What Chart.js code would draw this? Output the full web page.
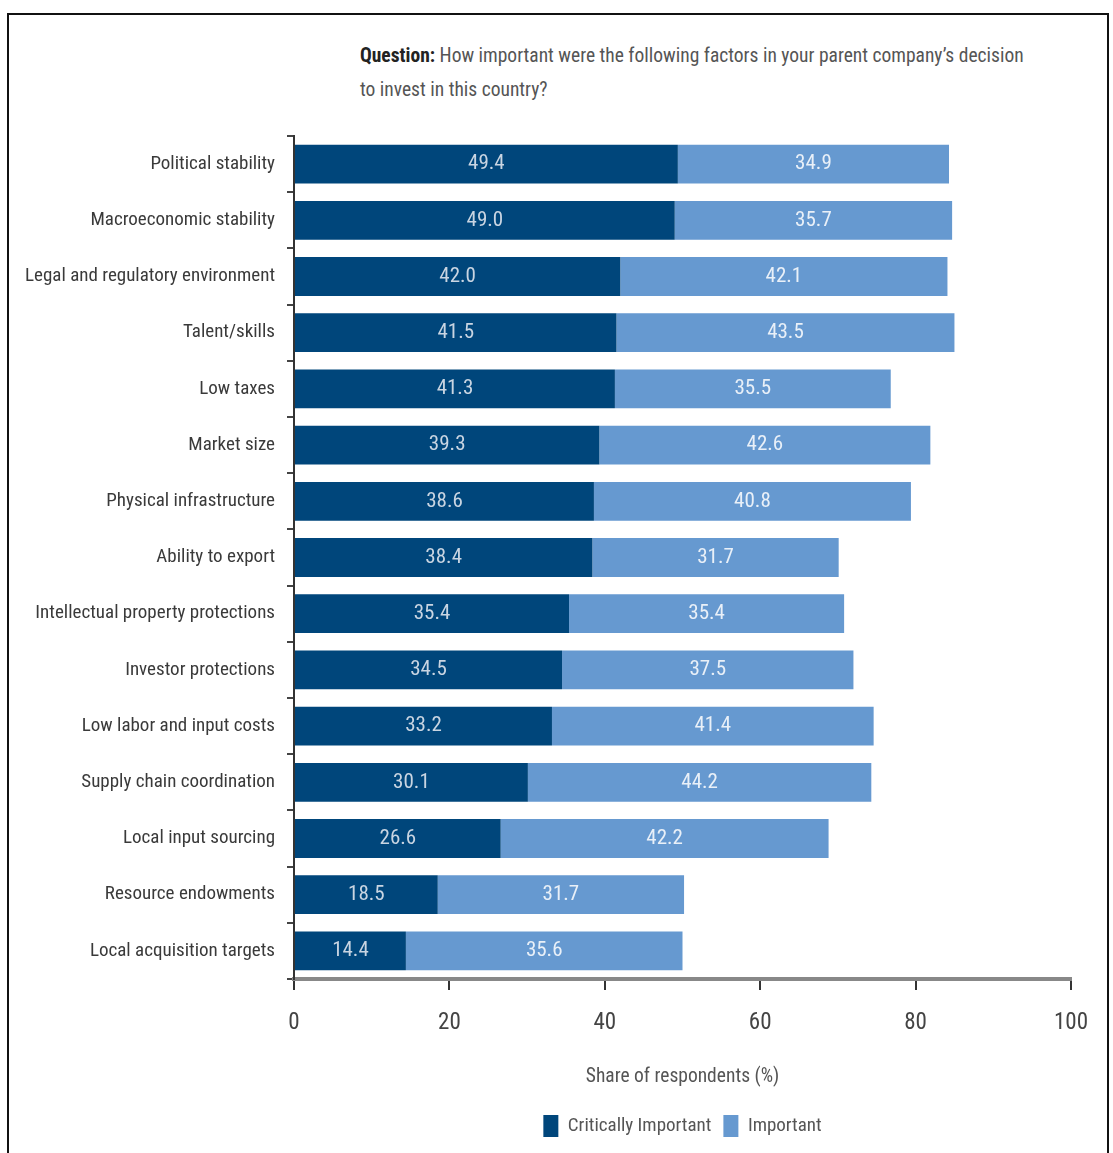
<!DOCTYPE html>
<html>
<head>
<meta charset="utf-8">
<script src="https://cdn.jsdelivr.net/npm/chart.js@4/dist/chart.umd.min.js"></script>
<style>
  html, body { margin:0; padding:0; background:#fff; }
  body { width:1113px; height:1153px; position:relative; overflow:hidden; }
  #frame { position:absolute; left:7px; top:13px; width:1102px; height:1160px; border:2px solid #111; box-sizing:border-box; }
  #title { position:absolute; left:360px; top:39px; font-family:'Liberation Sans Narrow','Arial Narrow','Roboto Condensed',sans-serif; font-size:19.5px; line-height:34px; color:#555; }
  #title b { color:#222; }
  #wrap { position:absolute; left:0; top:0; width:1113px; height:1153px; }
</style>
</head>
<body>
<div id="frame"></div>
<div id="title"><b>Question:</b> How important were the following factors in your parent company’s decision<br>to invest in this country?</div>
<div id="wrap"><canvas id="c" width="1113" height="1153"></canvas></div>
<script>
const categories = [
  "Political stability",
  "Macroeconomic stability",
  "Legal and regulatory environment",
  "Talent/skills",
  "Low taxes",
  "Market size",
  "Physical infrastructure",
  "Ability to export",
  "Intellectual property protections",
  "Investor protections",
  "Low labor and input costs",
  "Supply chain coordination",
  "Local input sourcing",
  "Resource endowments",
  "Local acquisition targets"
];
const criticallyImportant = [49.4, 49.0, 42.0, 41.5, 41.3, 39.3, 38.6, 38.4, 35.4, 34.5, 33.2, 30.1, 26.6, 18.5, 14.4];
const important = [34.9, 35.7, 42.1, 43.5, 35.5, 42.6, 40.8, 31.7, 35.4, 37.5, 41.4, 44.2, 42.2, 31.7, 35.6];
const xTicks = [0, 20, 40, 60, 80, 100];
const seriesNames = ["Critically Important", "Important"];

const FONT = "'Liberation Sans Narrow','Arial Narrow','Roboto Condensed',sans-serif";

const barLabels = {
  id: 'barLabels',
  afterDatasetsDraw(chart) {
    const ctx = chart.ctx;
    ctx.save();
    ctx.font = '21px ' + FONT;
    ctx.textAlign = 'center';
    ctx.textBaseline = 'middle';
    chart.data.datasets.forEach((ds, di) => {
      const meta = chart.getDatasetMeta(di);
      meta.data.forEach((bar, i) => {
        const p = bar.getProps(['x', 'y', 'base'], true);
        ctx.fillStyle = di === 0 ? '#c9d5e2' : '#e9f0f8';
        ctx.fillText(ds.data[i].toFixed(1), (p.x + p.base) / 2, p.y);
      });
    });
    ctx.restore();
  }
};

new Chart(document.getElementById('c'), {
  type: 'bar',
  data: {
    labels: categories,
    datasets: [
      { label: seriesNames[0], data: criticallyImportant, backgroundColor: '#00467b', categoryPercentage: 1, barPercentage: 0.69 },
      { label: seriesNames[1], data: important, backgroundColor: '#6699d0', categoryPercentage: 1, barPercentage: 0.69 }
    ]
  },
  options: {
    indexAxis: 'y',
    responsive: false,
    animation: false,
    devicePixelRatio: 1,
    layout: { padding: { top: 136, right: 42, left: 0, bottom: 6 } },
    plugins: {
      legend: {
        position: 'bottom',
        fullSize: false,
        labels: {
          font: { family: FONT, size: 19 },
          color: '#555',
          boxWidth: 15,
          boxHeight: 22,
          padding: 12,
          useBorderRadius: false
        }
      },
      tooltip: { enabled: false },
      title: { display: false }
    },
    scales: {
      x: {
        stacked: true,
        min: 0, max: 100,
        afterBuildTicks(scale) { scale.ticks = xTicks.map(v => ({ value: v })); },
        afterFit(scale) { scale.height = 124; },
        ticks: { font: { family: FONT, size: 23 }, color: '#444', padding: 19, maxRotation: 0 },
        grid: { drawOnChartArea: false, drawTicks: true, tickLength: 11, color: '#333', lineWidth: 2 },
        border: { display: true, color: '#888', width: 4 },
        title: { display: true, text: 'Share of respondents (%)', font: { family: FONT, size: 19.5 }, color: '#555', padding: { top: 0, bottom: 14 } }
      },
      y: {
        stacked: true,
        afterFit(scale) { scale.width = 294; },
        ticks: { font: { family: FONT, size: 19 }, color: '#3a3a3a', padding: 12, autoSkip: false },
        grid: { offset: true, drawOnChartArea: false, drawTicks: true, tickLength: 7, color: '#444', lineWidth: 2 },
        border: { display: true, color: '#333', width: 2 }
      }
    }
  },
  plugins: [barLabels]
});
</script>
</body>
</html>
